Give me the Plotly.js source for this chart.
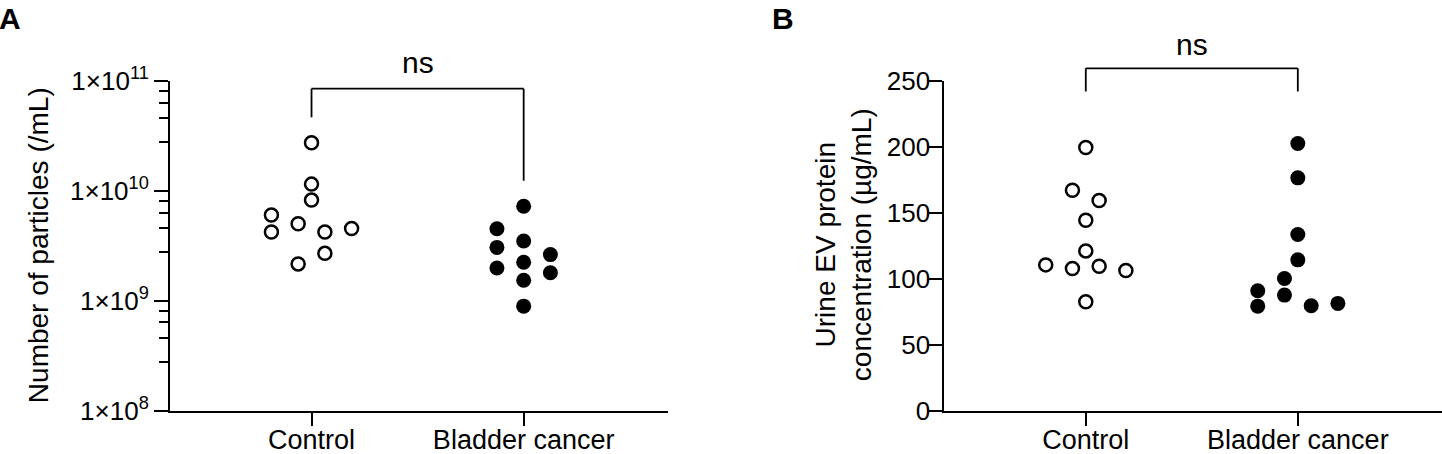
<!DOCTYPE html>
<html>
<head>
<meta charset="utf-8">
<script src="https://cdn.plot.ly/plotly-3.0.1.min.js"></script>
<style>
  html, body { margin: 0; padding: 0; background: #fff; }
  #chart { width: 1442px; height: 454px; }
</style>
</head>
<body>
<div id="chart"></div>
<script>
// groups on the x axis
const groups = ['Control', 'Bladder cancer'];

// Panel A: number of particles (/mL), log scale
const particlesControl = [2.76e10, 1.16e10, 8.3e9, 6.08e9, 4.26e9, 5.05e9, 4.26e9, 4.58e9, 2.72e9, 2.18e9];
const particlesBladder = [7.3e9, 4.55e9, 3.08e9, 2.0e9, 3.52e9, 2.26e9, 1.55e9, 9.0e8, 2.65e9, 1.81e9];
// Panel B: urine EV protein concentration (ug/mL)
const proteinControl = [199.8, 167.4, 159.6, 144.7, 121.4, 110.8, 108.1, 109.8, 106.6, 82.8];
const proteinBladder = [202.8, 176.8, 133.8, 114.6, 100.5, 91.2, 79.5, 87.9, 79.8, 81.6];

// beeswarm slot of each point (in swarm steps left/right of the group centre)
const particlesControlSlot = [0, 0, 0, -3, -3, -1, 1, 3, 1, -1];
const particlesBladderSlot = [0, -2, -2, -2, 0, 0, 0, 0, 2, 2];
const proteinControlSlot = [0, -1, 1, 0, 0, -3, -1, 1, 3, 0];
const proteinBladderSlot = [0, 0, 0, 0, -1, -3, -3, -1, 1, 3];

// log axis ticks
const logDecades = [8, 9, 10, 11];
const minorMantissa = [2.8, 4.6, 6.4, 8.2];
const proteinTicks = [0, 50, 100, 150, 200, 250];

const swarmStep = 0.063;
const FONT = 'Liberation Sans, Arial, Helvetica, sans-serif';

function swarmX(groupIdx, slots) {
    return slots.map(s => groupIdx + s * swarmStep);
}

function dots(groupIdx, values, slots, filled, axes) {
    return {
        x: swarmX(groupIdx, slots),
        y: values,
        xaxis: axes[0], yaxis: axes[1],
        type: 'scatter', mode: 'markers',
        hoverinfo: 'y',
        marker: filled
            ? { symbol: 'circle', size: 15, color: '#000' }
            : { symbol: 'circle-open', size: 13, color: '#000', line: { width: 2.5, color: '#000' } },
        cliponaxis: false,
        showlegend: false
    };
}

const traces = [
    dots(0, particlesControl, particlesControlSlot, false, ['x', 'y']),
    dots(1, particlesBladder, particlesBladderSlot, true, ['x', 'y']),
    dots(0, proteinControl, proteinControlSlot, false, ['x2', 'y2']),
    dots(1, proteinBladder, proteinBladderSlot, true, ['x2', 'y2'])
];

const minorVals = [];
logDecades.slice(0, -1).forEach(d => minorMantissa.forEach(m => minorVals.push(m * Math.pow(10, d))));

const yDomain = [0.0947, 0.8209];
const xRange = [-0.667, 1.68];

const baseX = {
    range: xRange, showgrid: false, zeroline: false,
    showline: true, linecolor: '#000', linewidth: 2,
    ticks: 'outside', ticklen: 13, tickwidth: 2, tickcolor: '#000',
    tickvals: [0, 1], ticktext: groups,
    ticklabelstandoff: -9,
    tickfont: { family: FONT, size: 27, color: '#000' },
    fixedrange: true
};
const baseY = {
    domain: yDomain, showgrid: false, zeroline: false,
    showline: true, linecolor: '#000', linewidth: 2,
    ticks: 'outside', ticklen: 14, tickwidth: 2, tickcolor: '#000',
    tickfont: { family: FONT, size: 26, color: '#000' },
    fixedrange: true
};

// significance bracket: three segments between the two groups
function bracket(xref, yTop, yLeft, yRight) {
    const s = { type: 'line', xref: xref, yref: 'paper', line: { color: '#000', width: 1.8 } };
    return [
        { ...s, x0: 0, x1: 1, y0: yTop, y1: yTop },
        { ...s, x0: 0, x1: 0, y0: yTop, y1: yLeft },
        { ...s, x0: 1, x1: 1, y0: yTop, y1: yRight }
    ];
}

const layout = {
    width: 1442, height: 454,
    margin: { l: 0, r: 0, t: 0, b: 0 },
    paper_bgcolor: '#fff', plot_bgcolor: '#fff',
    font: { family: FONT, color: '#000' },
    showlegend: false,
    xaxis: { ...baseX, domain: [0.1179, 0.4632], anchor: 'y' },
    yaxis: {
        ...baseY, type: 'log', range: [8, 11], anchor: 'x',
        tickvals: logDecades.map(d => Math.pow(10, d)),
        ticktext: logDecades.map(d => '1×10<sup>' + d + '</sup>'),
        minor: { tickvals: minorVals, ticks: 'outside', ticklen: 9, tickwidth: 2, tickcolor: '#000', showgrid: false }
    },
    xaxis2: { ...baseX, domain: [0.6549, 1], anchor: 'y2' },
    yaxis2: {
        ...baseY, range: [0, 250], anchor: 'x2',
        tickvals: proteinTicks,
        ticklabelstandoff: -7
    },
    shapes: [
        ...bracket('x', 0.8046, 0.7416, 0.602),
        ...bracket('x2', 0.8496, 0.7985, 0.7985)
    ],
    annotations: [
        { text: '<b>A</b>', xref: 'paper', yref: 'paper', x: -0.002, y: 1.0, xanchor: 'left', yanchor: 'top',
          showarrow: false, font: { family: FONT, size: 30 } },
        { text: '<b>B</b>', xref: 'paper', yref: 'paper', x: 0.534, y: 1.0, xanchor: 'left', yanchor: 'top',
          showarrow: false, font: { family: FONT, size: 30 } },
        { text: 'ns', xref: 'x', yref: 'paper', x: 0.5, y: 0.863, xanchor: 'center', yanchor: 'middle',
          showarrow: false, font: { family: FONT, size: 30 } },
        { text: 'ns', xref: 'x2', yref: 'paper', x: 0.5, y: 0.901, xanchor: 'center', yanchor: 'middle',
          showarrow: false, font: { family: FONT, size: 30 } },
        { text: 'Number of particles (/mL)', xref: 'paper', yref: 'paper', x: 38 / 1442, y: 0.46,
          xanchor: 'center', yanchor: 'middle',
          textangle: -90, showarrow: false, font: { family: FONT, size: 28 } },
        { text: 'Urine EV protein<br>concentration (µg/mL)', xref: 'paper', yref: 'paper', x: 843 / 1442, y: 0.46,
          xanchor: 'center', yanchor: 'middle',
          textangle: -90, showarrow: false, font: { family: FONT, size: 28 } }
    ]
};

Plotly.newPlot('chart', traces, layout, { displayModeBar: false, staticPlot: true });
</script>
</body>
</html>
